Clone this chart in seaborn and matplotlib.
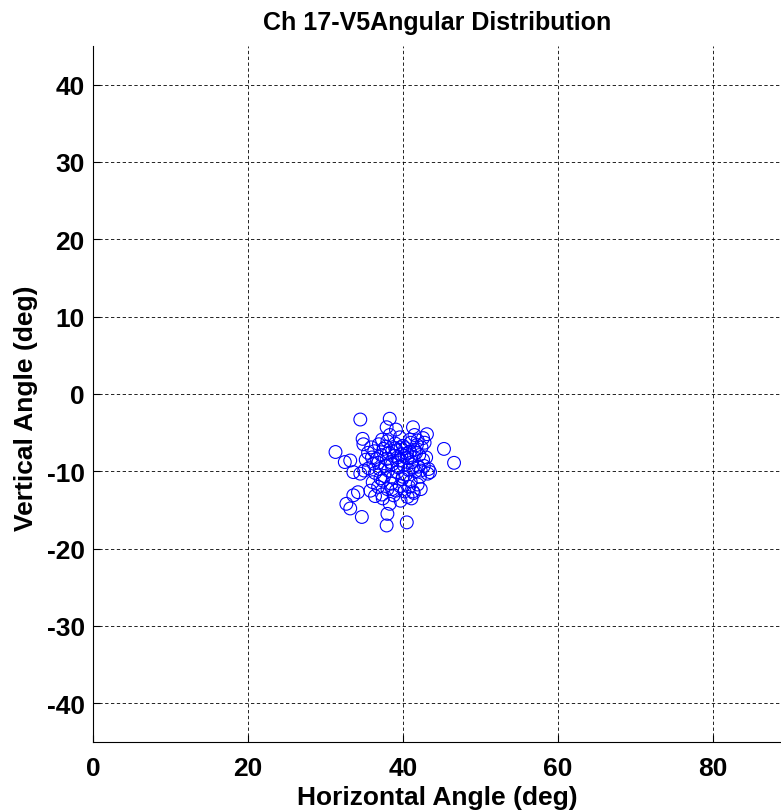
import numpy as np
import pandas as pd
import matplotlib
matplotlib.use("Agg")
import matplotlib.pyplot as plt
import seaborn as sns

# angles (deg)
horiz_angle = [
    34.5, 38.3, 37.9, 39.1, 41.3, 41.5, 43.1, 42.6, 34.8, 34.9,
    37.3, 31.3, 45.3, 46.6, 32.5, 33.2, 33.6, 34.5, 43.5, 43.3,
    34.2, 33.6, 32.7, 33.2, 34.7, 38.0, 37.9, 40.5,
    35.5, 36.0, 36.3, 36.8, 37.2, 37.5, 37.9, 38.2, 38.6, 38.9,
    39.2, 39.5, 39.8, 40.1, 40.3, 40.6, 40.9, 41.2, 41.5, 41.8,
    42.1, 42.4, 42.0, 41.0, 40.0, 39.0, 38.0, 36.9, 35.9, 35.2,
    35.6, 36.4, 37.0, 37.6, 38.1, 38.7, 39.3, 39.9, 40.4, 41.0,
    41.6, 42.2, 42.7, 43.0, 36.1, 36.8, 37.4, 38.0, 38.5, 39.1,
    39.6, 40.2, 40.8, 41.4, 41.9, 42.3, 37.3, 38.8, 40.6, 41.1,
    39.4, 40.7, 38.4, 37.7, 41.3, 42.6, 39.7, 40.5, 41.7, 39.0,
    38.3, 39.6, 40.9, 42.8, 41.9, 36.6, 35.0, 37.1, 40.0, 38.6,
    36.2, 37.8, 39.3, 40.2, 41.1, 42.3, 43.2, 35.8, 38.3, 39.7,
    36.4, 37.4, 38.6, 41.3,
]
vert_angle = [
    -3.3, -3.2, -4.3, -4.6, -4.3, -5.3, -5.2, -5.7, -5.8, -6.5,
    -5.9, -7.5, -7.1, -8.9, -8.8, -8.6, -10.1, -10.3, -10.1, -9.7,
    -12.7, -13.1, -14.2, -14.8, -15.9, -15.5, -17.0, -16.6,
    -7.6, -8.2, -7.4, -8.9, -7.9, -7.1, -8.4, -7.6, -9.1, -8.0,
    -7.3, -8.6, -7.8, -9.2, -7.0, -8.3, -7.5, -8.8, -7.2, -6.6,
    -7.9, -6.9, -9.4, -6.3, -6.7, -6.4, -6.1, -6.5, -6.9, -8.5,
    -9.6, -10.2, -9.7, -10.6, -9.9, -10.8, -10.1, -11.0, -10.4, -11.3,
    -10.0, -10.7, -9.3, -8.2, -11.4, -12.0, -11.2, -12.3, -11.6, -12.5,
    -11.9, -12.6, -12.0, -12.8, -11.7, -12.3, -13.0, -13.1, -13.3, -13.5,
    -9.5, -9.8, -8.8, -9.3, -9.5, -8.5, -6.9, -7.7, -7.6, -7.0,
    -5.3, -5.6, -5.9, -6.3, -6.0, -8.4, -9.9, -10.9, -10.7, -7.4,
    -9.0, -6.8, -8.2, -8.0, -8.2, -9.9, -10.3, -12.5, -14.2, -13.8,
    -13.2, -13.5, -12.3, -12.6,
]
x_ticks = [0, 20, 40, 60, 80]
y_ticks = [-40, -30, -20, -10, 0, 10, 20, 30, 40]

df = pd.DataFrame({"h": horiz_angle, "v": vert_angle})

sns.set_style("ticks")
plt.rcParams["font.family"] = ["Liberation Sans", "DejaVu Sans"]
plt.rcParams["font.weight"] = "bold"
plt.rcParams["axes.unicode_minus"] = False
plt.rcParams["text.color"] = "black"
plt.rcParams["axes.labelcolor"] = "black"
plt.rcParams["xtick.color"] = "black"
plt.rcParams["ytick.color"] = "black"

fig = plt.figure(figsize=(7.81, 8.12), dpi=100)
ax = fig.add_axes([93 / 781, 69 / 812, (781 - 93) / 781, (743 - 47) / 812])

sns.scatterplot(data=df, x="h", y="v", ax=ax, marker="o", s=85,
                facecolors="none", edgecolor="#0000ff", linewidth=0.8)

ax.set_xlim(0, 88.8)
ax.set_ylim(-45, 45)
ax.set_xticks(x_ticks)
ax.set_yticks(y_ticks)
ax.grid(True, color="black", linestyle=(0, (4, 3)), linewidth=0.6)
ax.tick_params(direction="in", length=5, width=0.8, labelsize=19,
               colors="black")
ax.tick_params(axis="x", pad=10)
ax.tick_params(axis="y", pad=6)
for lbl in ax.get_xticklabels() + ax.get_yticklabels():
    lbl.set_fontweight("bold")

for side in ["top", "right"]:
    ax.spines[side].set_visible(False)
ax.spines["left"].set_color("black")
ax.spines["bottom"].set_color("black")

ax.set_xlabel("Horizontal Angle (deg)", fontsize=19, fontweight="bold", labelpad=4)
ax.set_ylabel("Vertical Angle (deg)", fontsize=19, fontweight="bold")
ax.yaxis.set_label_coords(-0.08, 0.481)
ax.set_title("Ch 17-V5Angular Distribution", fontsize=18, fontweight="bold", pad=12)

fig.savefig("out.png", dpi=100)
